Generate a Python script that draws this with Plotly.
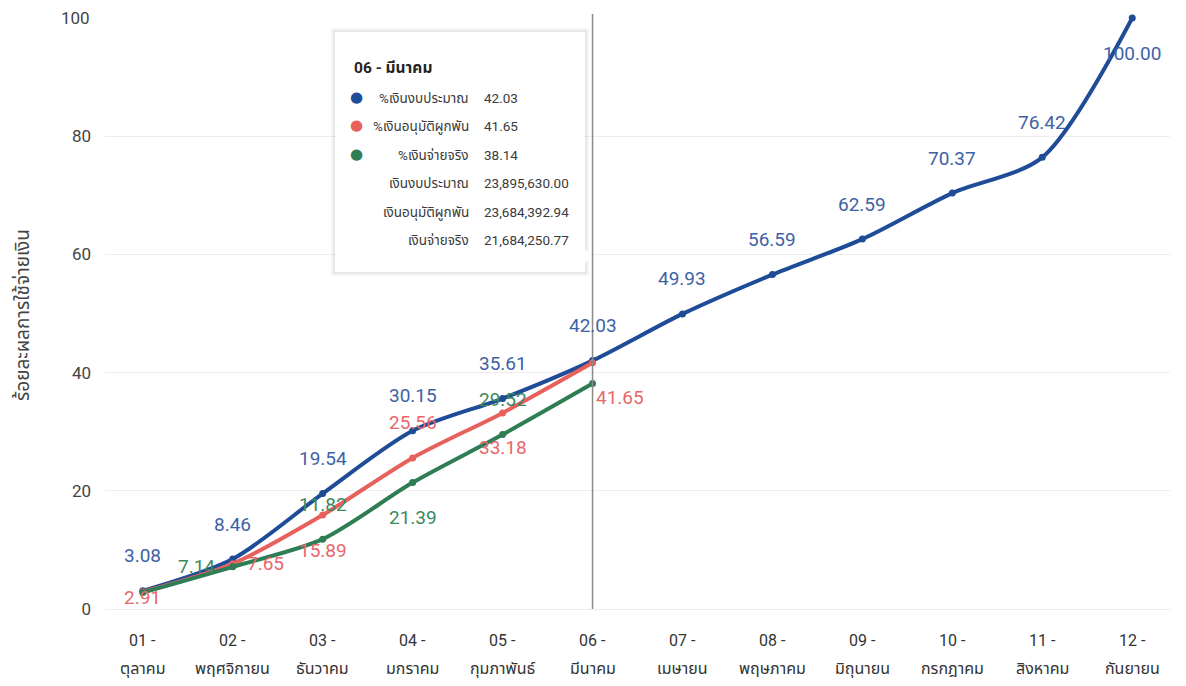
import plotly.graph_objects as go

# ---------------- data ----------------
months = ["01 - ตุลาคม", "02 - พฤศจิกายน", "03 - ธันวาคม", "04 - มกราคม", "05 - กุมภาพันธ์",
          "06 - มีนาคม", "07 - เมษายน", "08 - พฤษภาคม", "09 - มิถุนายน", "10 - กรกฎาคม",
          "11 - สิงหาคม", "12 - กันยายน"]
month_num = [m.split(" - ")[0] + " -" for m in months]
month_name = [m.split(" - ")[1] for m in months]

budget_pct = [3.08, 8.46, 19.54, 30.15, 35.61, 42.03, 49.93, 56.59, 62.59, 70.37, 76.42, 100.00]
committed_pct = [2.91, 7.65, 15.89, 25.56, 33.18, 41.65]
paid_pct = [2.80, 7.14, 11.82, 21.39, 29.52, 38.14]

series_names = ["%เงินงบประมาณ", "%เงินอนุมัติผูกพัน", "%เงินจ่ายจริง"]
tooltip_month = "06 - มีนาคม"
tooltip_labels = ["%เงินงบประมาณ", "%เงินอนุมัติผูกพัน", "%เงินจ่ายจริง",
                  "เงินงบประมาณ", "เงินอนุมัติผูกพัน", "เงินจ่ายจริง"]
tooltip_values = ["42.03", "41.65", "38.14", "23,895,630.00", "23,684,392.94", "21,684,250.77"]
y_title = "ร้อยละผลการใช้จ่ายเงิน"
y_ticks = [0, 20, 40, 60, 80, 100]

# ---------------- styles ----------------
line_colors = ["#1F4C96", "#E8605C", "#2E7D55"]
label_colors = ["#3D62A6", "#E8676A", "#3B8A5E"]
# label placement codes: t=top, b=bottom, l=left, r=right, c=near centre, n=none
label_pos = [
    ["t", "t", "t", "t", "t", "t", "t", "t", "t", "t", "t", "b"],
    ["c", "r", "b", "t", "b", "br"],
    ["n", "l", "t", "b", "t", "n"],
]
offsets = {"t": (0, 35), "b": (0, -35), "l": (-36, 0), "r": (33, 0), "c": (0, -6), "br": (27, -35)}

FONT = "Segoe UI, Roboto, Noto Sans Thai, Noto Sans, sans-serif"
TICKFONT = dict(family=FONT, size=17, color="#444444")

# page has an 8px body margin; compensate so the plot lands where the reference has it
PAGE = 8
W, H = 1186 - PAGE, 686 - PAGE
L, R, T, B = 105 - PAGE, 16, 18 - PAGE, 77
PW, PH = W - L - R, H - T - B


def px(xp):
    return (xp - PAGE - L) / PW


def py(yp):
    return (T + PH - (yp - PAGE)) / PH


fig = go.Figure()
all_series = [budget_pct, committed_pct, paid_pct]
for i, vals in enumerate(all_series):
    fig.add_trace(go.Scatter(
        x=months[:len(vals)], y=vals, name=series_names[i],
        mode="lines+markers",
        line=dict(color=line_colors[i], width=4, shape="spline", smoothing=0.8),
        marker=dict(color=line_colors[i], size=7),
        cliponaxis=False, showlegend=False,
    ))

annotations = []
for i, vals in enumerate(all_series):
    for j, v in enumerate(vals):
        code = label_pos[i][j]
        if code == "n":
            continue
        dx, dy = offsets[code]
        annotations.append(dict(
            x=months[j], y=v, xref="x", yref="y", text=f"{v:.2f}", showarrow=False,
            xshift=dx, yshift=dy, font=dict(family=FONT, size=19, color=label_colors[i]),
        ))

# two-line category labels (number line + month name line)
for j, m in enumerate(months):
    annotations.append(dict(x=m, y=0, xref="x", yref="paper", text=month_num[j], showarrow=False,
                            yanchor="middle", yshift=-31, font=dict(family=FONT, size=16, color="#333333")))
    annotations.append(dict(x=m, y=0, xref="x", yref="paper", text=month_name[j], showarrow=False,
                            yanchor="middle", yshift=-59, font=dict(family=FONT, size=16, color="#333333")))

# top y tick label (plotly drops it at the very top edge of the page)
annotations.append(dict(x=0, y=y_ticks[-1], xref="paper", yref="y", text=str(y_ticks[-1]),
                        showarrow=False, xanchor="right", yanchor="middle", xshift=-13,
                        font=TICKFONT))

# y axis title
annotations.append(dict(x=px(22), y=py(315), xref="paper", yref="paper", text=y_title, textangle=-90,
                        showarrow=False, xanchor="center", yanchor="middle",
                        font=dict(family=FONT, size=19, color="#444444")))

shapes = []
# spike line at the hovered month
shapes.append(dict(type="line", xref="x", yref="paper", x0=months[5], x1=months[5],
                   y0=0, y1=py(14), line=dict(color="#8A8A8A", width=1.5), layer="above"))
# tooltip shadow + box
for k, col in enumerate(["rgba(0,0,0,0.04)", "rgba(0,0,0,0.05)"]):
    e = 4 - 2 * k
    shapes.append(dict(type="rect", xref="paper", yref="paper",
                       x0=px(335 - e), x1=px(585 + e), y0=py(272 + e), y1=py(32 - e),
                       line=dict(width=0), fillcolor=col, layer="above"))
shapes.append(dict(type="rect", xref="paper", yref="paper",
                   x0=px(335), x1=px(585), y0=py(272), y1=py(32),
                   line=dict(width=0), fillcolor="white", layer="above"))
shapes.append(dict(type="path", xref="paper", yref="paper",
                   path=f"M {px(584)} {py(248)} L {px(591)} {py(256)} L {px(584)} {py(264)} Z",
                   line=dict(width=0), fillcolor="white", layer="above"))
# light blue page edge on the right
shapes.append(dict(type="rect", xref="paper", yref="paper", x0=px(1181), x1=px(1186), y0=py(700), y1=py(0),
                   line=dict(width=0), fillcolor="#E3ECFA", layer="above"))

# tooltip text
TF = dict(family=FONT, size=13.5, color="#3A3A3A")
annotations.append(dict(x=px(352), y=py(68), xref="paper", yref="paper", text=f"<b>{tooltip_month}</b>",
                        showarrow=False, xanchor="left", yanchor="middle",
                        font=dict(family=FONT, size=15.5, color="#252423")))
row_y = [98, 126, 155, 183, 212, 240]
for k, (lab, val) in enumerate(zip(tooltip_labels, tooltip_values)):
    annotations.append(dict(x=px(471), y=py(row_y[k]), xref="paper", yref="paper", text=lab,
                            showarrow=False, xanchor="right", yanchor="middle", font=TF))
    annotations.append(dict(x=px(482), y=py(row_y[k]), xref="paper", yref="paper", text=val,
                            showarrow=False, xanchor="left", yanchor="middle", font=TF))
    if k < 3:
        annotations.append(dict(x=px(356), y=py(row_y[k] - 1), xref="paper", yref="paper", text="●",
                                showarrow=False, xanchor="center", yanchor="middle",
                                font=dict(family="DejaVu Sans", size=15, color=line_colors[k])))

fig.update_layout(
    width=W, height=H,
    margin=dict(l=L, r=R, t=T, b=B, autoexpand=True),
    paper_bgcolor="white", plot_bgcolor="white",
    font=dict(family=FONT, color="#333333"),
    xaxis=dict(type="category", categoryorder="array", categoryarray=months,
               range=[-0.42, 11.42], showticklabels=False, automargin=False,
               showgrid=False, showline=False, zeroline=False, ticks=""),
    yaxis=dict(range=[0, 100], tickvals=y_ticks[:-1], ticktext=[str(t) for t in y_ticks[:-1]],
               automargin=False,
               showgrid=True, gridcolor="#EDEDED", gridwidth=1,
               zeroline=True, zerolinecolor="#EDEDED", zerolinewidth=1,
               showline=False, ticks="", ticklabelstandoff=13,
               tickfont=TICKFONT),
    shapes=shapes, annotations=annotations,
)

fig.write_html("out.html")
